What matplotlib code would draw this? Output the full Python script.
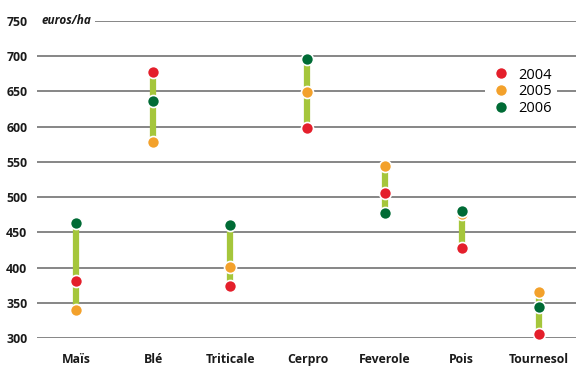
import numpy as np
import matplotlib
matplotlib.use('Agg')
from matplotlib import pyplot as plt
from matplotlib.lines import Line2D

categories = ['Maïs', 'Blé', 'Triticale', 'Cerpro', 'Feverole', 'Pois', 'Tournesol']
years = ['2004', '2005', '2006']
v2004 = [381, 678, 374, 598, 506, 428, 305]
v2005 = [340, 578, 401, 649, 544, 476, 365]
v2006 = [463, 636, 460, 696, 477, 480, 344]
yticks = [300, 350, 400, 450, 500, 550, 600, 650, 700, 750]

colors = ['#e41f2b', '#f3a12b', '#006b35']
stem_color = '#a5c63b'

plt.rcParams['font.family'] = ['Open Sans', 'DejaVu Sans']

fig = plt.figure(figsize=(5.76, 3.67), dpi=100)
ax = fig.add_axes([37 / 576, 29 / 367, 1 - 37 / 576, 317 / 367])

x = np.arange(len(categories))
series = [v2004, v2005, v2006]
lo = np.min(series, axis=0)
hi = np.max(series, axis=0)

for t in yticks:
    ax.axhline(t, color='#7d7d7d', lw=1.3, zorder=1)

ax.vlines(x, lo, hi, color=stem_color, lw=4.5, zorder=2)
for vals, c in zip(series, colors):
    ax.scatter(x, vals, s=75, color=c, edgecolors='white', linewidths=1.2, zorder=3, clip_on=False)

ax.set_xlim(-0.505, 6.48)
ax.set_ylim(300, 750)
ax.set_yticks(yticks)
ax.set_xticks(x)
ax.set_xticklabels(categories)
for lab in ax.get_xticklabels() + ax.get_yticklabels():
    lab.set_fontweight('bold')
    lab.set_fontsize(8.8)
    lab.set_color('#1a1a1a')
ax.tick_params(length=0, pad=7)
ax.tick_params(axis='x', pad=11)
for s in ax.spines.values():
    s.set_visible(False)

ax.text(-0.45, 750, 'euros/ha', fontsize=8.5, fontweight='bold', style='italic', color='#1a1a1a',
        va='center', ha='left', zorder=5,
        bbox=dict(facecolor='white', edgecolor='none', pad=3))

handles = [Line2D([], [], ls='', marker='o', ms=8.5, mfc=c, mec='white', mew=1) for c in colors]
leg = ax.legend(handles, years, loc='upper left', bbox_to_anchor=(0.818, 0.89), frameon=True,
                fontsize=10.5, handletextpad=0.5, labelspacing=0.12, borderpad=0.3, handlelength=1.5)
leg.get_frame().set_facecolor('white')
leg.get_frame().set_edgecolor('none')
leg.get_frame().set_alpha(1)
leg.set_zorder(6)

fig.savefig('out.png', dpi=100)
